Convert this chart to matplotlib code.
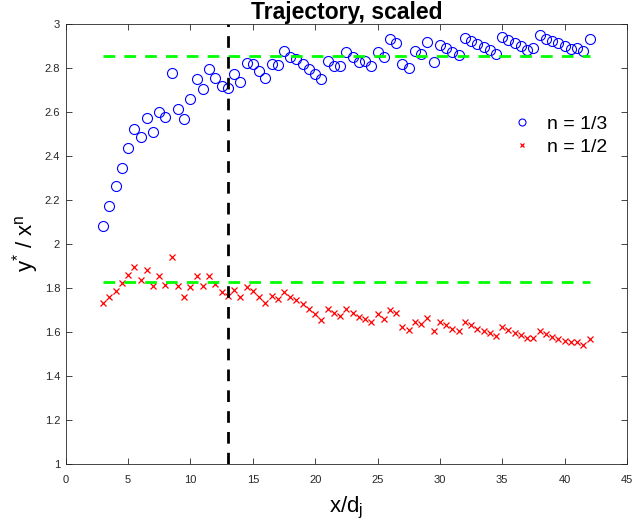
import matplotlib
matplotlib.use('Agg')
import matplotlib.pyplot as plt
import numpy as np

plt.rcParams['font.family'] = ['Liberation Sans', 'DejaVu Sans']
plt.rcParams['mathtext.default'] = 'regular'

# x/d_j positions (both series share them)
x_vals = [3.0, 3.5, 4.0, 4.5, 5.0, 5.5, 6.0, 6.5, 7.0, 7.5, 8.0, 8.5, 9.0, 9.5,
          10.0, 10.5, 11.0, 11.5, 12.0, 12.5, 13.0, 13.5, 14.0, 14.5, 15.0, 15.5,
          16.0, 16.5, 17.0, 17.5, 18.0, 18.5, 19.0, 19.5, 20.0, 20.5, 21.0, 21.5,
          22.0, 22.5, 23.0, 23.5, 24.0, 24.5, 25.0, 25.5, 26.0, 26.5, 27.0, 27.5,
          28.0, 28.5, 29.0, 29.5, 30.0, 30.5, 31.0, 31.5, 32.0, 32.5, 33.0, 33.5,
          34.0, 34.5, 35.0, 35.5, 36.0, 36.5, 37.0, 37.5, 38.0, 38.5, 39.0, 39.5,
          40.0, 40.5, 41.0, 41.5, 42.0]

# n = 1/3
y_third = [2.08, 2.17, 2.26, 2.342, 2.434, 2.523, 2.484, 2.571, 2.508, 2.600,
           2.574, 2.777, 2.614, 2.567, 2.658, 2.747, 2.705, 2.793, 2.753, 2.715,
           2.706, 2.770, 2.736, 2.823, 2.816, 2.785, 2.755, 2.817, 2.810, 2.876,
           2.847, 2.841, 2.818, 2.793, 2.773, 2.747, 2.832, 2.808, 2.808, 2.870,
           2.847, 2.827, 2.829, 2.809, 2.871, 2.850, 2.930, 2.911, 2.815, 2.797,
           2.876, 2.860, 2.917, 2.827, 2.905, 2.888, 2.873, 2.856, 2.936, 2.920,
           2.906, 2.895, 2.879, 2.862, 2.938, 2.924, 2.911, 2.898, 2.882, 2.888,
           2.947, 2.932, 2.920, 2.911, 2.897, 2.884, 2.888, 2.876, 2.932]

# n = 1/2
y_half = [1.729, 1.756, 1.786, 1.823, 1.858, 1.895, 1.836, 1.879, 1.806, 1.855,
          1.814, 1.940, 1.806, 1.759, 1.805, 1.852, 1.808, 1.855, 1.815, 1.779,
          1.761, 1.788, 1.758, 1.805, 1.787, 1.756, 1.729, 1.764, 1.749, 1.780,
          1.756, 1.744, 1.725, 1.702, 1.679, 1.655, 1.702, 1.684, 1.671, 1.705,
          1.686, 1.665, 1.659, 1.644, 1.679, 1.656, 1.699, 1.684, 1.621, 1.606,
          1.645, 1.633, 1.662, 1.604, 1.646, 1.630, 1.614, 1.602, 1.644, 1.630,
          1.614, 1.603, 1.593, 1.579, 1.621, 1.608, 1.595, 1.585, 1.571, 1.571,
          1.603, 1.591, 1.577, 1.565, 1.558, 1.552, 1.552, 1.538, 1.567]

# mean levels and the transition position
level_third = 2.855
level_half = 1.825
x_cut = 13

fig = plt.figure(figsize=(6.32, 5.31), dpi=100)
ax = fig.add_axes([0.104, 0.1267, 0.888, 0.8287])

ax.plot(x_vals, y_third, 'o', mfc='none', mec='#0000ff', ms=7.2, mew=0.8,
        label='n = 1/3')
ax.plot(x_vals, y_half, 'x', color='#ff0000', ms=5, mew=0.9, label='n = 1/2')

dash = (4.2, 3.3)
ax.plot([x_vals[0], x_vals[-1]], [level_third, level_third], '--',
        color='#00ff00', lw=2, dashes=dash)
ax.plot([x_vals[0], x_vals[-1]], [level_half, level_half], '--',
        color='#00ff00', lw=2, dashes=dash)
ax.plot([x_cut, x_cut], [1, 3], '--', color='k', lw=2, dashes=dash)

ax.set_xlim(0, 45)
ax.set_ylim(1, 3)
ax.set_xticks(np.arange(0, 46, 5))
ax.set_yticks(np.arange(1, 3.01, 0.2))
ax.yaxis.set_major_formatter(matplotlib.ticker.FormatStrFormatter('%g'))
ax.tick_params(direction='in', top=True, right=True, labelsize=8, length=4,
               width=0.6, colors='#262626', labelcolor='#262626')
ax.tick_params(axis='x', pad=8)
ax.tick_params(axis='y', pad=4)
for s in ax.spines.values():
    s.set_linewidth(0.6)
    s.set_color('#262626')

ax.set_xlabel('x/d$_j$', fontsize=16, labelpad=7)
ax.set_ylabel('$y^{*}$ / $x^{n}$', fontsize=16, labelpad=2.5)
ax.set_title('Trajectory, scaled', fontsize=16.5, fontweight='bold', pad=3.5)

ax.legend(loc='center left', bbox_to_anchor=(0.796, 0.746), frameon=False,
          fontsize=14, labelspacing=0.3, handlelength=1.0, handletextpad=0.8,
          borderpad=0, borderaxespad=0, markerscale=0.7)

fig.savefig('out.png', dpi=100)
